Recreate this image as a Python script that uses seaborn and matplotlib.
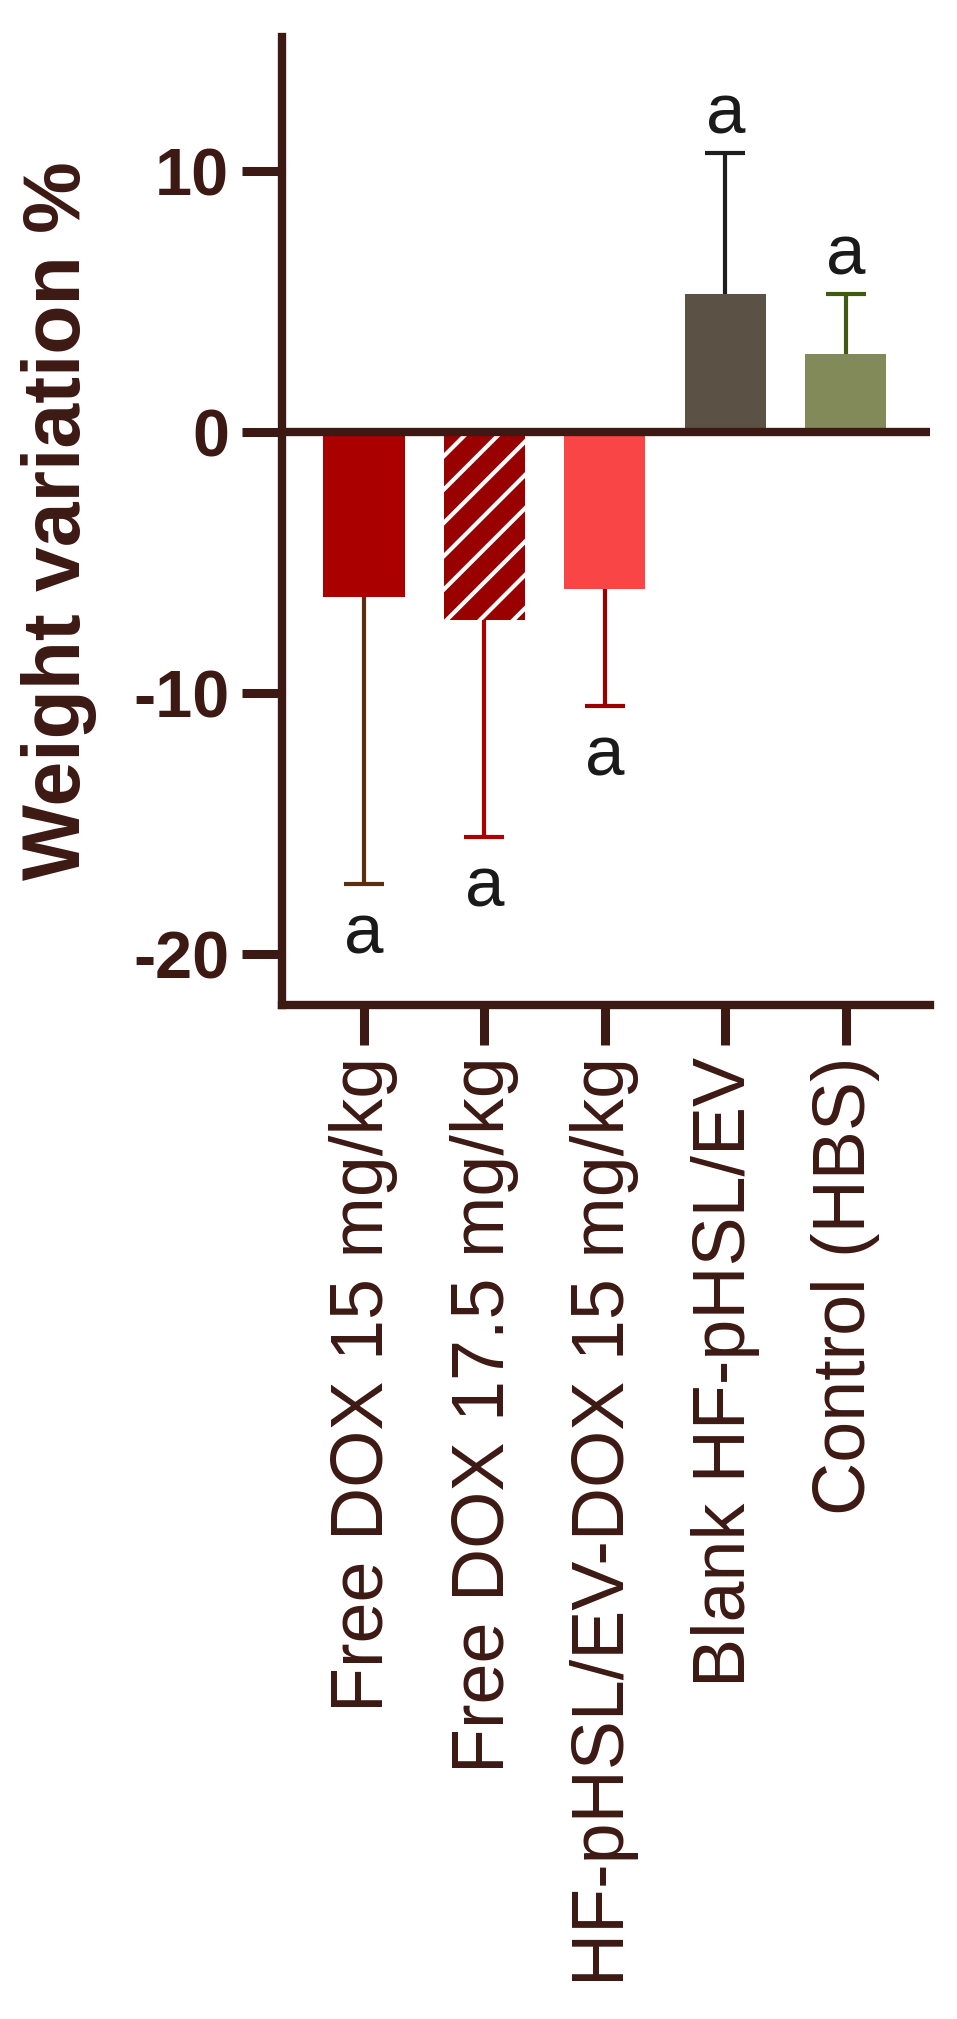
import numpy as np
import matplotlib
matplotlib.use('Agg')
import matplotlib.pyplot as plt
import seaborn as sns

# values
groups = ['Free DOX 15 mg/kg', 'Free DOX 17.5 mg/kg', 'HF-pHSL/EV-DOX 15 mg/kg',
          'Blank HF-pHSL/EV', 'Control (HBS)']
means = [-6.3, -7.2, -6.0, 5.3, 3.0]
sds = [11.0, 8.3, 4.5, 5.4, 2.3]
letters = ['a', 'a', 'a', 'a', 'a']

bar_colors = ['#AA0000', '#990000', '#F94545', '#5B5245', '#838A5A']
err_colors = ['#5A2E0E', '#AA0000', '#990000', '#1E1E1E', '#3F5A12']
ink = '#3D1914'

sns.set_style('white')
plt.rcParams['font.family'] = ['Liberation Sans', 'DejaVu Sans']
plt.rcParams['axes.unicode_minus'] = False
plt.rcParams['hatch.linewidth'] = 3.0

fig = plt.figure(figsize=(9.57, 20.19), dpi=100)
ax = fig.add_axes([0.2947, 0.5022, 0.6771, 0.4794])

sns.barplot(x=groups, y=means, hue=groups, palette=bar_colors, width=0.675,
            errorbar=None, legend=False, saturation=1, ax=ax, linewidth=0)

# hatched second bar
p = ax.patches[1]
p.set_hatch('/')
p.set_edgecolor('white')
p.set_linewidth(0)

# one-sided error bars, away from zero
for i, (m, s) in enumerate(zip(means, sds)):
    yerr = [[s], [0]] if m < 0 else [[0], [s]]
    _, caps, _ = ax.errorbar(i, m, yerr=yerr, fmt='none', ecolor=err_colors[i],
                             elinewidth=3, capsize=14.5, capthick=3, zorder=2)
    for cap in caps:
        if np.isclose(cap.get_ydata()[0], m):
            cap.set_visible(False)
    end = m - s if m < 0 else m + s
    off = -50 if m < 0 else 14
    ax.annotate(letters[i], (i, end), xytext=(0, off), textcoords='offset points',
                ha='center', va='baseline', fontsize=51, color='#1A1A1A')

ax.axhline(0, color=ink, lw=6, zorder=3)

ax.set_xlim(-0.68, 4.70)
ax.set_ylim(-21.95, 15.13)
ax.set_yticks([-20, -10, 0, 10])

for side in ['top', 'right']:
    ax.spines[side].set_visible(False)
for side in ['left', 'bottom']:
    ax.spines[side].set_color(ink)
    ax.spines[side].set_linewidth(6)

ax.tick_params(axis='y', length=29, width=6.5, color=ink, pad=9,
               labelsize=48, labelcolor=ink, left=True)
ax.tick_params(axis='x', length=29, width=6.5, color=ink, pad=8,
               labelsize=53, labelcolor=ink, bottom=True)
for t in ax.get_yticklabels():
    t.set_fontweight('bold')
ax.set_xticks(range(len(groups)))
ax.set_xticklabels(groups, rotation=90)

ax.set_ylabel('Weight variation %', fontsize=58, fontweight='bold', color=ink)
ax.yaxis.set_label_coords(-0.285, 0.5)
ax.set_xlabel('')

fig.savefig('out.png', dpi=100, facecolor='white')
